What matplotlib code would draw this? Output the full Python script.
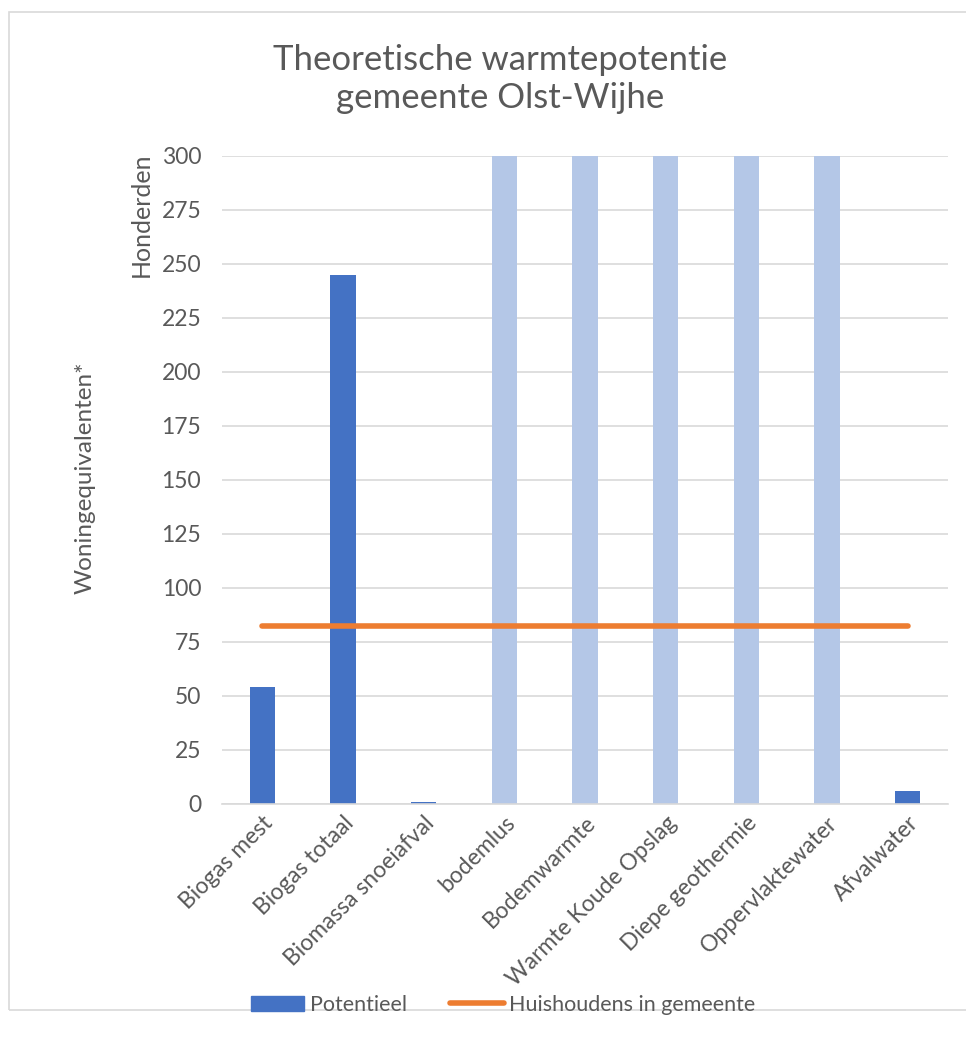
import matplotlib
matplotlib.use("Agg")
import matplotlib.pyplot as plt
from matplotlib.patches import Rectangle
from matplotlib.lines import Line2D

categories = ["Biogas mest", "Biogas totaal", "Biomassa snoeiafval", "bodemlus",
              "Bodemwarmte", "Warmte Koude Opslag", "Diepe geothermie",
              "Oppervlaktewater", "Afvalwater"]
potentieel = [54.3, 245.0, 0.8, 1000, 1000, 1000, 1000, 1000, 6.0]
huishoudens = [82.5] * 9
light_points = [False, False, False, True, True, True, True, True, False]
yticks = list(range(0, 301, 25))

plt.rcParams['font.family'] = ['Lato', 'DejaVu Sans']
txt = '#595959'

fig = plt.figure(figsize=(9.66, 10.37), dpi=100)
fig.patches.append(Rectangle((9/966, 1-1010/1037), 1, (1010-12)/1037,
                             transform=fig.transFigure, fill=False,
                             edgecolor='#d9d9d9', linewidth=1.2))
W, H = 966, 1037
ax = fig.add_axes([222/W, 1-804/H, 726/W, 648/H])

x = list(range(len(categories)))
colors = ['#b4c7e7' if l else '#4472c4' for l in light_points]
ax.bar(x, potentieel, width=0.31, color=colors, zorder=2)
ax.plot(x, huishoudens, color='#ed7d31', linewidth=4, solid_capstyle='round', zorder=3)

ax.set_xlim(-0.5, len(categories) - 0.5)
ax.set_ylim(0, 300)
ax.set_yticks(yticks)
ax.yaxis.grid(True, color='#d9d9d9', linewidth=1.2, zorder=0)
ax.set_axisbelow(True)
for s in ['top', 'right', 'left']:
    ax.spines[s].set_visible(False)
ax.spines['bottom'].set_color('#d9d9d9')
ax.spines['bottom'].set_linewidth(1.2)
ax.tick_params(axis='both', length=0, colors=txt, labelsize=16.5)
ax.tick_params(axis='y', pad=15)
ax.tick_params(axis='x', pad=6)
ax.set_xticks(x)
ax.set_xticklabels(categories, rotation=45, ha='right', rotation_mode='anchor', color=txt)

fig.text(141/W, 1-215/H, 'Honderden', rotation=90, ha='center', va='center',
         color=txt, fontsize=18)
fig.text(85/W, 1-478/H, 'Woningequivalenten*', rotation=90, ha='center', va='center',
         color=txt, fontsize=17.5)
fig.text(500/W, 1-79/H, 'Theoretische warmtepotentie\ngemeente Olst-Wijhe',
         ha='center', va='center', color=txt, fontsize=25, linespacing=1.22)

handles = [Rectangle((0, 0), 1, 1, color='#4472c4'),
           Line2D([0], [0], color='#ed7d31', linewidth=4, solid_capstyle='round')]
fig.legend(handles, ['Potentieel', 'Huishoudens in gemeente'], loc='center',
           bbox_to_anchor=(503/W, 1-1005/H), ncol=2, frameon=False, fontsize=15.5,
           labelcolor=txt, handlelength=2.5, handletextpad=0.25, columnspacing=2.0)

fig.savefig('out.png', dpi=100)
